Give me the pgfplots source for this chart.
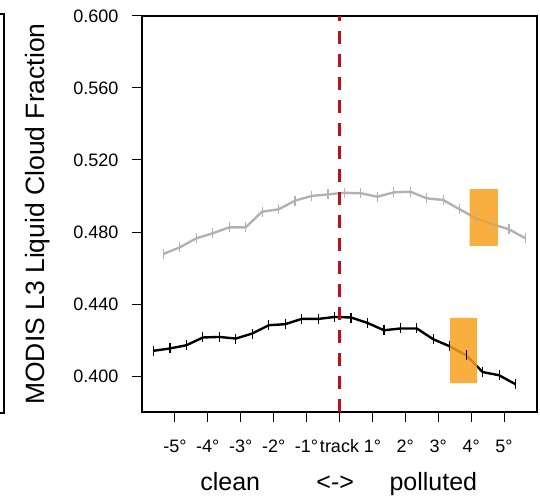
\documentclass[border=0pt]{standalone}
\usepackage{fontspec}
\setmainfont{Liberation Sans}
\usepackage{pgfplots}
\pgfplotsset{compat=1.18}

\definecolor{lightline}{RGB}{178,178,178}
\definecolor{trackred}{RGB}{185,16,26}
\definecolor{boxorange}{RGB}{248,160,30}

\begin{document}
\begin{tikzpicture}
\begin{axis}[
    at={(0,0)}, anchor=south west,
    scale only axis,
    width=395pt, height=396pt,
    xmin=-6, xmax=6,
    ymin=0.38, ymax=0.6,
    axis line style={line width=1.2pt},
    tick style={line width=1pt, black},
    tick align=outside,
    xtick pos=bottom, ytick pos=left,
    major tick length=10pt,
    xtick={-5,-4,-3,-2,-1,0,1,2,3,4,5},
    xticklabels={-5°,-4°,-3°,-2°,-1°,track,1°,2°,3°,4°,5°},
    ytick={0.40,0.44,0.48,0.52,0.56,0.60},
    yticklabel style={xshift=-10pt,
        /pgf/number format/fixed, /pgf/number format/fixed zerofill,
        /pgf/number format/precision=3,
        /pgf/number format/assume math mode=true},
    xticklabel style={yshift=-14pt},
    ticklabel style={font=\fontsize{18}{21}\selectfont},
    ylabel={MODIS L3 Liquid Cloud Fraction},
    every axis y label/.style={at={(rel axis cs:0,0.5)}, xshift=-104pt, rotate=90,
        anchor=center, font=\fontsize{26.5}{30}\selectfont},
    clip=false,
]
% gray series
\addplot[lightline, line width=2.4pt, mark=|, mark size=5pt,
    mark options={line width=1.2pt}] coordinates {
    (-5.35,0.4678) (-4.85,0.4715) (-4.35,0.4765) (-3.85,0.4793) (-3.35,0.4826)
    (-2.85,0.4826) (-2.35,0.4913) (-1.85,0.4926) (-1.35,0.4974) (-0.85,0.5000)
    (-0.35,0.5009) (0.15,0.5018) (0.65,0.5015) (1.15,0.4996) (1.65,0.5020)
    (2.15,0.5024) (2.65,0.4987) (3.15,0.4978) (3.65,0.4926) (4.15,0.4876)
    (4.65,0.4843) (5.15,0.4815) (5.65,0.4765)
};
% black series
\addplot[black, line width=2.4pt, mark=|, mark size=5pt,
    mark options={line width=1.2pt}] coordinates {
    (-5.65,0.4140) (-5.15,0.4153) (-4.65,0.4171) (-4.15,0.4214) (-3.65,0.4217)
    (-3.15,0.4208) (-2.65,0.4236) (-2.15,0.4282) (-1.65,0.4288) (-1.15,0.4317)
    (-0.65,0.4317) (-0.15,0.4328) (0.35,0.4325) (0.85,0.4295) (1.35,0.4254)
    (1.85,0.4264) (2.35,0.4264) (2.85,0.4204) (3.35,0.4165) (3.85,0.4115)
    (4.35,0.4022) (4.85,0.4004) (5.35,0.3954)
};
% track line
\addplot[trackred, line width=2.6pt, dash pattern=on 13pt off 10pt] coordinates {
    (0,0.38) (0,0.6)
};
% highlighted boxes
\addplot[fill=boxorange, draw=none, fill opacity=0.85] coordinates {
    (3.95,0.4723) (4.81,0.4723) (4.81,0.5038) (3.95,0.5038) (3.95,0.4723)
};
\addplot[fill=boxorange, draw=none, fill opacity=0.85] coordinates {
    (3.36,0.3961) (4.18,0.3961) (4.18,0.4323) (3.36,0.4323) (3.36,0.3961)
};
\node[anchor=base, font=\fontsize{25}{30}\selectfont] at (axis cs:-3.32,0.38) [yshift=-78pt] {clean};
\node[anchor=base, font=\fontsize{25}{30}\selectfont] at (axis cs:-0.13,0.38) [yshift=-78pt] {<->};
\node[anchor=base, font=\fontsize{25}{30}\selectfont] at (axis cs:2.85,0.38) [yshift=-78pt] {polluted};
\end{axis}
% edge of the neighbouring panel
\draw[line width=1.2pt] (-142pt,398pt) -- (-138pt,398pt) -- (-138pt,-1pt) -- (-142pt,-1pt);
\pgfresetboundingbox
\path[use as bounding box] (-142pt,-83pt) rectangle (398pt,412pt);
\end{tikzpicture}
\end{document}
